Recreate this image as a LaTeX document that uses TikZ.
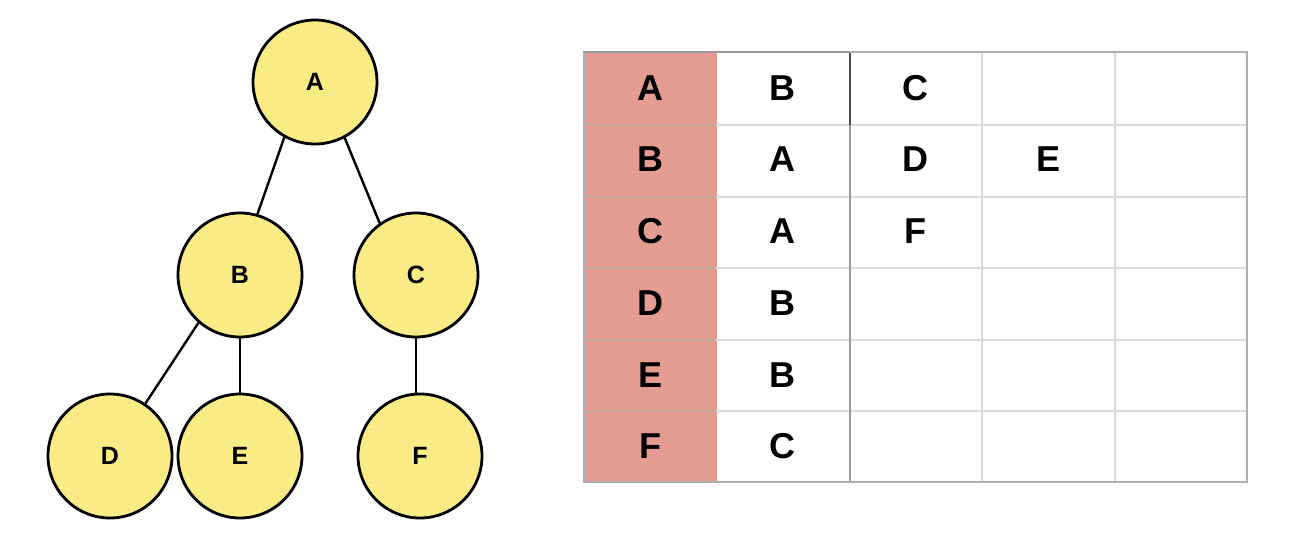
\documentclass[tikz,border=0pt]{standalone}
\usepackage{fontspec}
\setmainfont{Liberation Sans}
\definecolor{nodeyellow}{HTML}{F9EC85}
\definecolor{headpink}{HTML}{E49C92}
\definecolor{gridlight}{HTML}{DADADA}
\definecolor{griddark}{HTML}{9A9A9A}
\begin{document}
\begin{tikzpicture}[x=1pt,y=-1pt,
  treenode/.style={circle,draw=black,line width=2.8pt,fill=nodeyellow,minimum size=124pt,inner sep=0pt,font=\fontsize{25}{25}\selectfont\bfseries},
  edge/.style={draw=black,line width=2.4pt},
  cellhead/.style={minimum width=132.6pt,minimum height=71.7pt,inner sep=0pt,fill=headpink,font=\fontsize{36}{36}\selectfont\bfseries},
  cellbody/.style={minimum width=132.6pt,minimum height=71.7pt,inner sep=0pt,font=\fontsize{36}{36}\selectfont\bfseries}]
\useasboundingbox (0,0) rectangle (1296,536);
\fill[white] (0,0) rectangle (1296,536);
% tree
\node[treenode] (A) at (315,82) {A};
\node[treenode] (B) at (240,275) {B};
\node[treenode] (C) at (416,275) {C};
\node[treenode] (D) at (110,456) {D};
\node[treenode] (E) at (240,456) {E};
\node[treenode] (F) at (420,456) {F};
\coordinate (Ftop) at (C.south |- F.north);
\draw[edge] (A.241) -- (B.74);
\draw[edge] (A.298) -- (C.125);
\draw[edge] (B.229) -- (D.56);
\draw[edge] (B) -- (E);
\draw[edge] (C.south) -- (Ftop);
% table
\foreach \r/\lab in {0/A,1/B,2/C,3/D,4/E,5/F}{
  \node[cellhead] (h\r) at (650.3,{87.85+71.7*\r}) {\lab};
}
\node[cellbody] (b01) at (782.9,87.85) {B};
\node[cellbody] (b02) at (915.5,87.85) {C};
\node[cellbody] (b11) at (782.9,159.55) {A};
\node[cellbody] (b12) at (915.5,159.55) {D};
\node[cellbody] (b13) at (1048.1,159.55) {E};
\node[cellbody] (b21) at (782.9,231.25) {A};
\node[cellbody] (b22) at (915.5,231.25) {F};
\node[cellbody] (b31) at (782.9,302.95) {B};
\node[cellbody] (b41) at (782.9,374.65) {B};
\node[cellbody] (b51) at (782.9,446.35) {C};
% grid lines
\foreach \yy in {125,197,268,340,411}{
  \draw[gridlight,line width=1.5pt] (716,\yy) -- (1247,\yy);
  \draw[headpink!70!black!60,line width=1.2pt] (584,\yy) -- (716,\yy);
}
\foreach \xx in {982,1115}{
  \draw[gridlight,line width=1.5pt] (\xx,52) -- (\xx,482);
}
\draw[griddark,line width=1.5pt] (850,52) -- (850,482);
\draw[black!70,line width=1.5pt] (850,52) -- (850,125);
\draw[gridlight!80!black,line width=1.5pt] (584,52) rectangle (1247,482);
\draw[griddark,line width=1.5pt] (584,52) -- (850,52);
\end{tikzpicture}
\end{document}
